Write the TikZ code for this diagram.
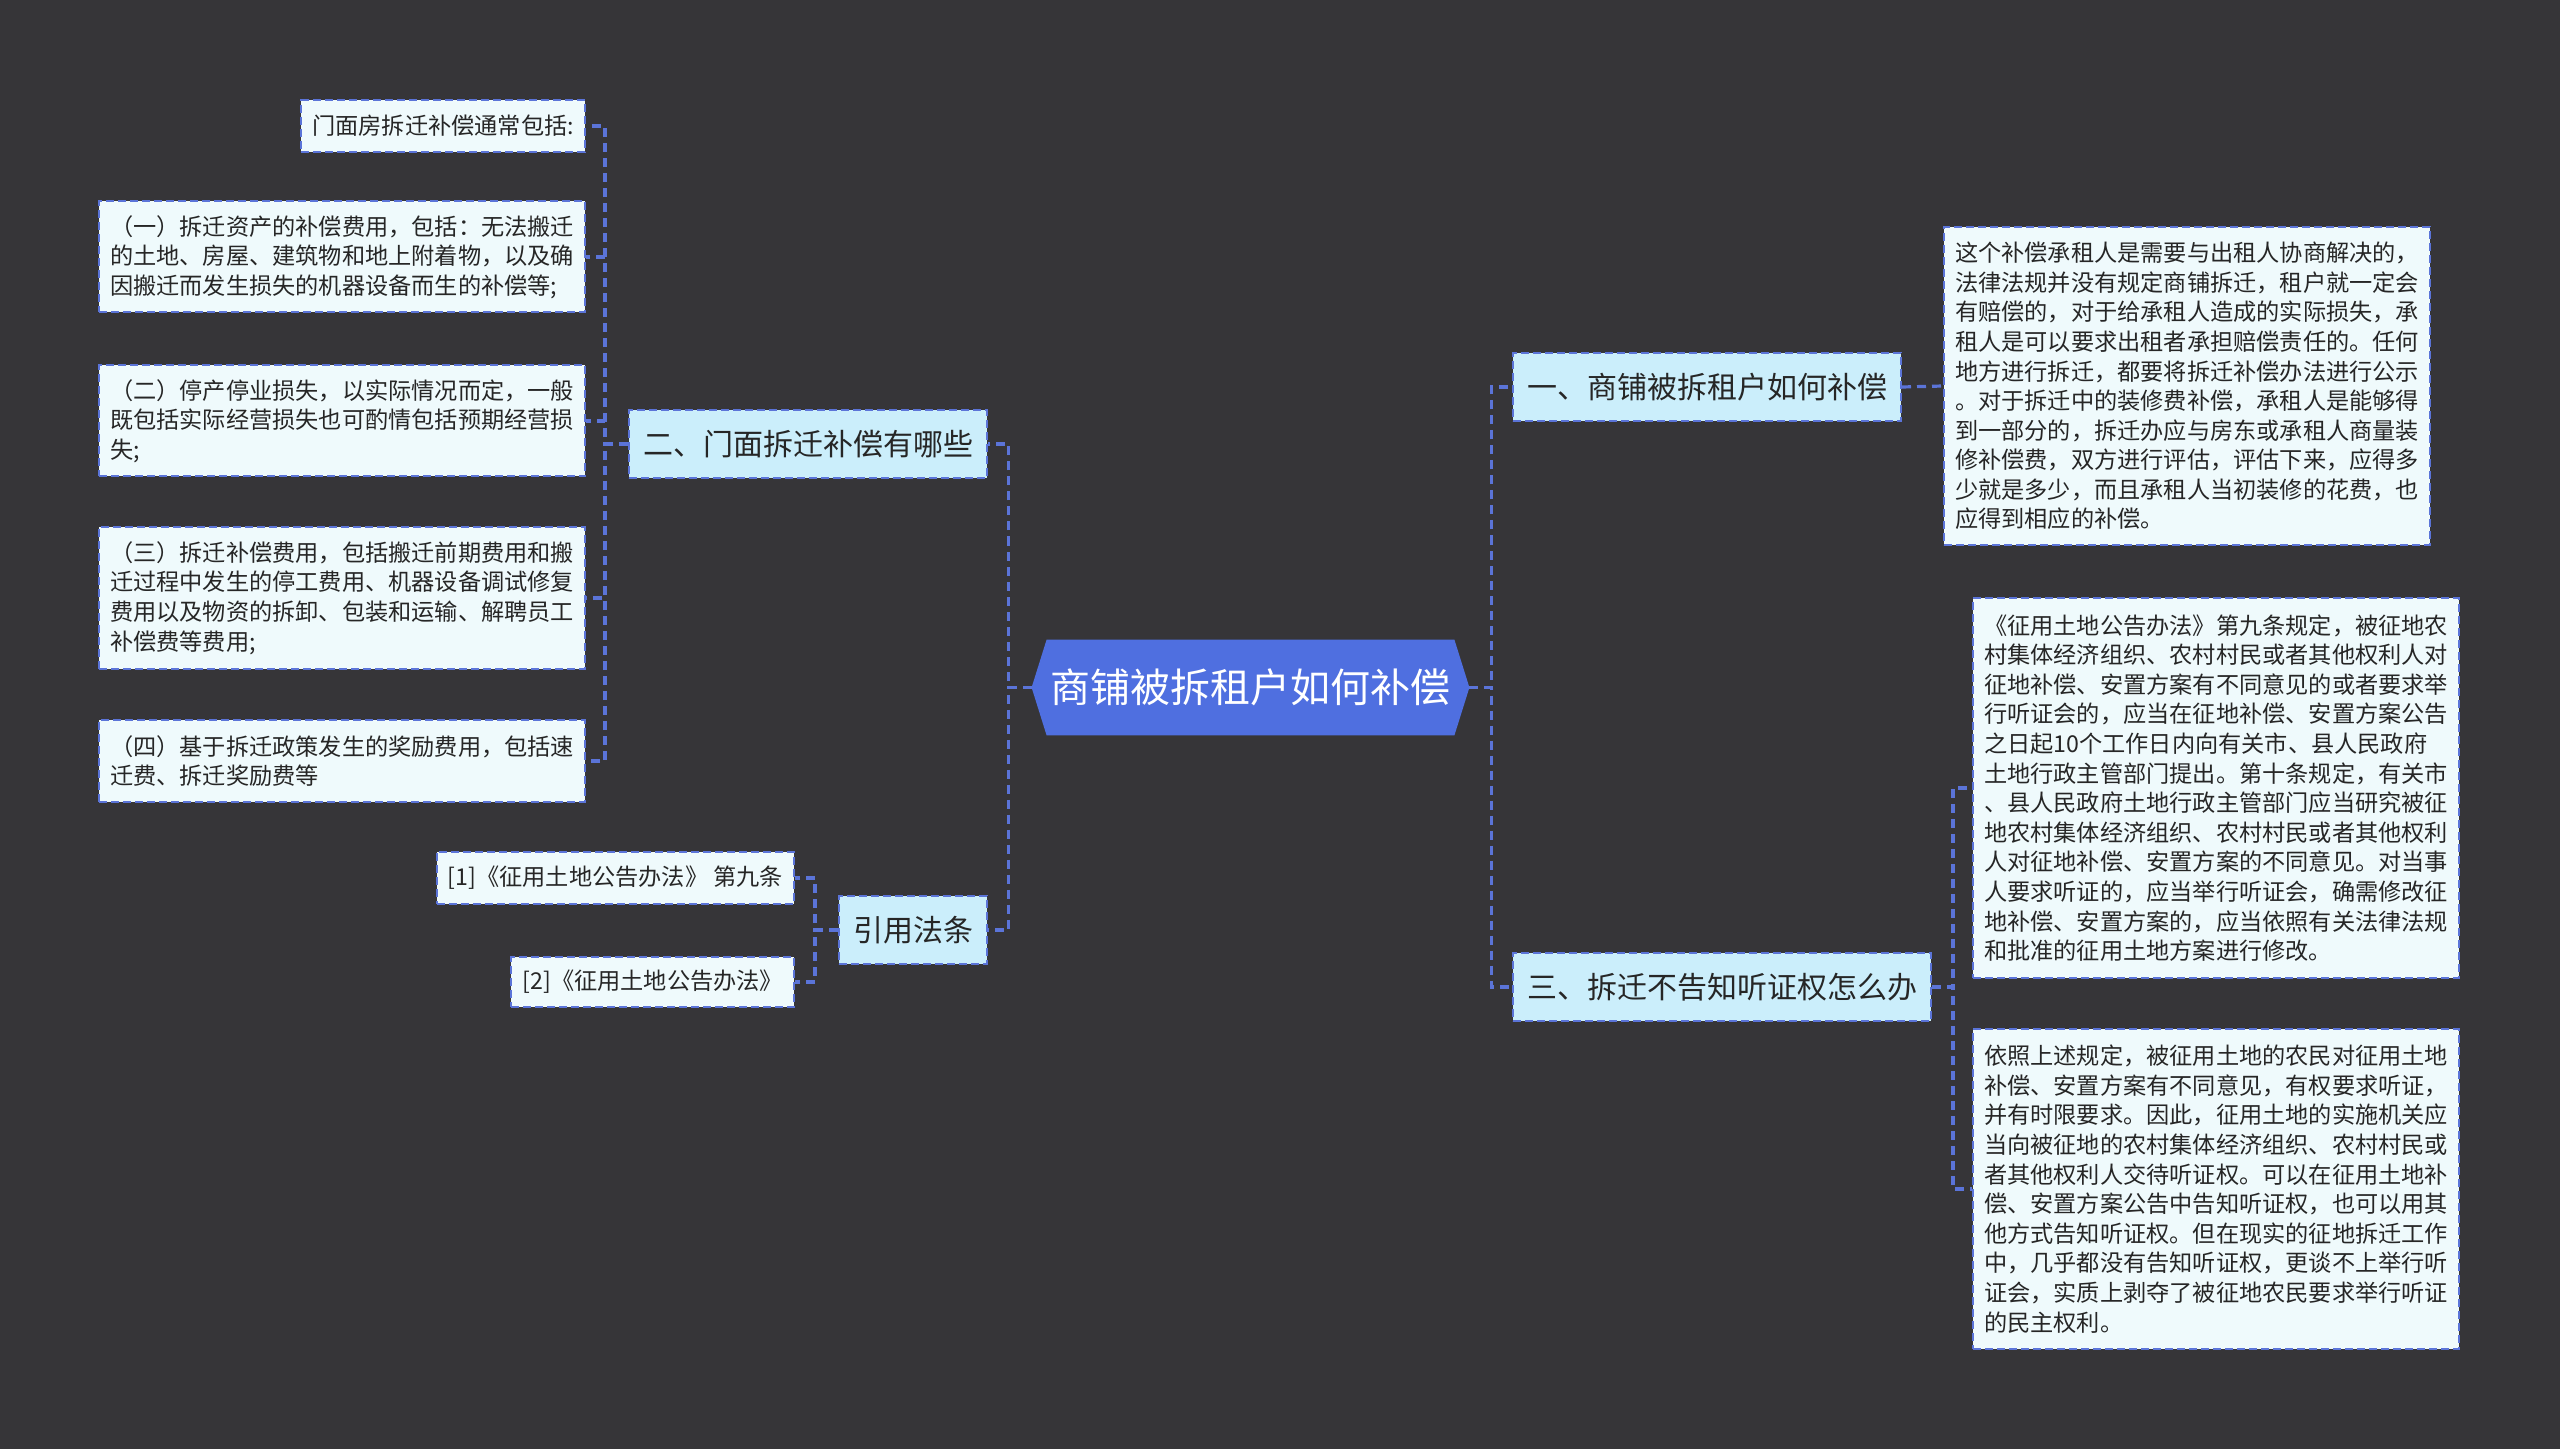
\documentclass[tikz,border=0pt]{standalone}
\usepackage{fontspec}
\setmainfont{Noto Sans CJK SC}
\usetikzlibrary{backgrounds}
\definecolor{bgdark}{HTML}{363538}
\definecolor{linkblue}{HTML}{5B74D8}
\definecolor{rootblue}{HTML}{4F6FE0}
\definecolor{branchfill}{HTML}{CBEEFB}
\definecolor{leaffill}{HTML}{EFFAFC}
\definecolor{inktext}{HTML}{262626}

\begin{document}
\begin{tikzpicture}[x=0.5pt,y=-0.5pt,
  link/.style={draw=linkblue,line width=1.6pt,dash pattern=on 4.5pt off 3pt},
  boxline/.style={draw=linkblue,line width=1pt,dash pattern=on 4pt off 2pt},
  topic/.style={fill=none,text=white,font=\fontsize{20}{24}\selectfont,
    minimum width=218.5pt,minimum height=47.5pt,inner sep=0pt},
  branch/.style={boxline,fill=branchfill,text=inktext,
    font=\fontsize{15}{18}\selectfont,inner xsep=7pt,minimum height=34pt},
  leaf/.style={boxline,fill=leaffill,text=inktext,
    font=\fontsize{11.6}{14.8}\selectfont,inner xsep=5.5pt,inner ysep=3pt,align=left},
  leafbox/.style={leaf,text width=232pt}]
  \useasboundingbox (0,0) rectangle (2560,1449);

  % centre
  \node[topic] (root) at (1250.5,687.5) {商铺被拆租户如何补偿};

  % branches
  \node[branch,anchor=east] (doorfront) at (988,444) {二、门面拆迁补偿有哪些};
  \node[branch,anchor=east] (lawref) at (988,930) {引用法条};
  \node[branch,anchor=west] (tenant) at (1512,387) {一、商铺被拆租户如何补偿};
  \node[branch,anchor=west] (hearing) at (1512,987) {三、拆迁不告知听证权怎么办};

  % left leaves
  \node[leaf,anchor=east,minimum height=26pt] (intro) at (586,126) {门面房拆迁补偿通常包括:};
  \node[leafbox,anchor=east,minimum height=55.5pt] (itemone) at (586,257)
    {（一）拆迁资产的补偿费用，包括：无法搬迁\\的土地、房屋、建筑物和地上附着物，以及确\\因搬迁而发生损失的机器设备而生的补偿等;};
  \node[leafbox,anchor=east,minimum height=55.5pt] (itemtwo) at (586,421)
    {（二）停产停业损失，以实际情况而定，一般\\既包括实际经营损失也可酌情包括预期经营损\\失;};
  \node[leafbox,anchor=east,minimum height=71pt] (itemthree) at (586,598)
    {（三）拆迁补偿费用，包括搬迁前期费用和搬\\迁过程中发生的停工费用、机器设备调试修复\\费用以及物资的拆卸、包装和运输、解聘员工\\补偿费等费用;};
  \node[leafbox,anchor=east,minimum height=41pt] (itemfour) at (586,761)
    {（四）基于拆迁政策发生的奖励费用，包括速\\迁费、拆迁奖励费等};

  \node[leaf,anchor=east,minimum height=26pt] (refone) at (795,878) {[1]《征用土地公告办法》 第九条};
  \node[leaf,anchor=east,minimum height=25pt] (reftwo) at (795,982) {[2]《征用土地公告办法》};

  % right leaves
  \node[leafbox,anchor=west,minimum height=159pt] (tenanttext) at (1943,386)
    {这个补偿承租人是需要与出租人协商解决的，\\法律法规并没有规定商铺拆迁，租户就一定会\\有赔偿的，对于给承租人造成的实际损失，承\\租人是可以要求出租者承担赔偿责任的。任何\\地方进行拆迁，都要将拆迁补偿办法进行公示\\。对于拆迁中的装修费补偿，承租人是能够得\\到一部分的，拆迁办应与房东或承租人商量装\\修补偿费，双方进行评估，评估下来，应得多\\少就是多少，而且承租人当初装修的花费，也\\应得到相应的补偿。};
  \node[leafbox,anchor=west,minimum height=190pt] (ruletext) at (1972,788)
    {《征用土地公告办法》第九条规定，被征地农\\村集体经济组织、农村村民或者其他权利人对\\征地补偿、安置方案有不同意见的或者要求举\\行听证会的，应当在征地补偿、安置方案公告\\之日起10个工作日内向有关市、县人民政府\\土地行政主管部门提出。第十条规定，有关市\\、县人民政府土地行政主管部门应当研究被征\\地农村集体经济组织、农村村民或者其他权利\\人对征地补偿、安置方案的不同意见。对当事\\人要求听证的，应当举行听证会，确需修改征\\地补偿、安置方案的，应当依照有关法律法规\\和批准的征用土地方案进行修改。};
  \node[leafbox,anchor=west,minimum height=160pt] (righttext) at (1972,1189)
    {依照上述规定，被征用土地的农民对征用土地\\补偿、安置方案有不同意见，有权要求听证，\\并有时限要求。因此，征用土地的实施机关应\\当向被征地的农村集体经济组织、农村村民或\\者其他权利人交待听证权。可以在征用土地补\\偿、安置方案公告中告知听证权，也可以用其\\他方式告知听证权。但在现实的征地拆迁工作\\中，几乎都没有告知听证权，更谈不上举行听\\证会，实质上剥夺了被征地农民要求举行听证\\的民主权利。};

  % connectors
  \foreach \b in {doorfront,lawref}
    \draw[link] (root.west) -- ++(-11.5pt,0) |- (\b.east);
  \foreach \b in {tenant,hearing}
    \draw[link] (root.east) -- ++(11pt,0) |- (\b.west);
  \foreach \l in {intro,itemone,itemtwo,itemthree,itemfour}
    \draw[link] (doorfront.west) -- ++(-11.5pt,0) |- (\l.east);
  \foreach \l in {refone,reftwo}
    \draw[link] (lawref.west) -- ++(-11.5pt,0) |- (\l.east);
  \draw[link] (tenant.east) -- (tenanttext.west);
  \foreach \l in {ruletext,righttext}
    \draw[link] (hearing.east) -- ++(10.5pt,0) |- (\l.west);

  \begin{scope}[on background layer]
    \fill[bgdark] (0,0) rectangle (2560,1449);
    \fill[rootblue] (root.west) -- ([xshift=7.5pt]root.north west)
      -- ([xshift=-7.5pt]root.north east) -- (root.east)
      -- ([xshift=-7.5pt]root.south east) -- ([xshift=7.5pt]root.south west) -- cycle;
  \end{scope}
\end{tikzpicture}
\end{document}
